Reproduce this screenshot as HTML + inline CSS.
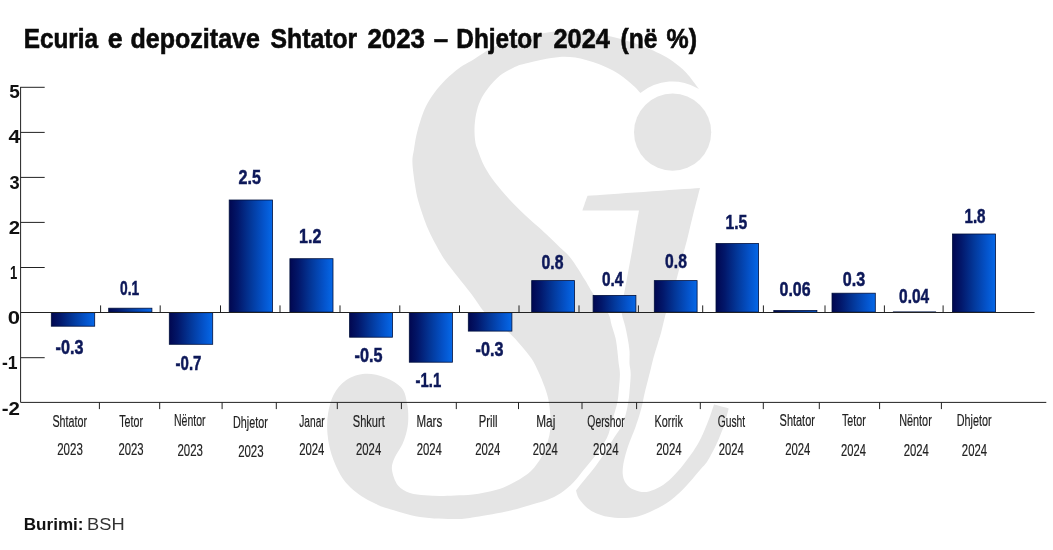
<!DOCTYPE html>
<html lang="sq"><head><meta charset="utf-8"><title>Ecuria e depozitave</title>
<style>
html,body{margin:0;padding:0;background:#fff}
body{width:1053px;height:550px;overflow:hidden}
svg{display:block;font-family:"Liberation Sans",sans-serif}
</style></head><body>
<svg width="1053" height="550" viewBox="0 0 1053 550">
<defs><linearGradient id="g" x1="0" y1="0" x2="1" y2="0">
<stop offset="0" stop-color="#010750"/><stop offset=".2" stop-color="#02176a"/><stop offset=".5" stop-color="#03389a"/><stop offset=".8" stop-color="#0454cc"/><stop offset="1" stop-color="#0568e8"/>
</linearGradient></defs>
<rect width="1053" height="550" fill="#fff"/>
<g fill="#e5e5e5" role="img" aria-label="Si"><path d="M699.0 89.0C696.8 86.2 690.3 77.1 686.0 72.5C681.7 67.9 677.3 64.6 673.0 61.5C668.7 58.4 664.5 56.1 660.0 53.8C655.5 51.5 651.0 49.5 646.0 47.5C641.0 45.5 635.8 43.6 630.0 41.8C624.2 40.0 617.8 38.0 611.0 36.5C604.2 35.0 598.3 33.3 589.0 32.5C579.7 31.7 566.5 30.5 555.0 31.5C543.5 32.5 529.8 36.1 519.8 38.6C509.8 41.1 502.8 43.0 495.0 46.6C487.2 50.2 478.8 56.4 472.8 60.0C466.8 63.6 463.5 64.9 459.0 68.2C454.5 71.5 449.9 75.5 445.8 79.6C441.7 83.7 437.7 88.3 434.4 92.7C431.1 97.1 428.5 101.2 426.2 105.8C423.9 110.4 422.1 115.7 420.5 120.6C418.9 125.5 417.5 130.4 416.4 135.3C415.3 140.2 414.6 145.6 413.9 150.0C413.2 154.4 412.3 156.6 412.4 162.0C412.5 167.4 413.8 176.4 414.7 182.7C415.6 189.0 416.6 194.6 418.0 200.0C419.4 205.4 421.1 210.4 422.9 215.4C424.6 220.4 426.3 225.1 428.5 230.0C430.7 234.9 433.4 240.1 435.9 244.8C438.4 249.5 440.7 253.7 443.5 258.0C446.3 262.3 449.9 266.7 452.8 270.5C455.7 274.3 458.1 277.3 461.0 281.0C463.9 284.7 467.5 289.0 470.2 292.5C472.9 296.0 474.6 298.7 477.0 302.0C479.4 305.3 481.1 308.6 484.5 312.2C487.9 315.8 493.2 319.9 497.5 323.5C501.8 327.1 506.1 329.8 510.0 333.5C513.9 337.2 517.4 341.2 521.0 345.5C524.6 349.8 528.9 354.6 531.8 359.0C534.7 363.4 536.4 367.4 538.5 372.0C540.6 376.6 542.9 382.1 544.6 386.8C546.3 391.5 547.6 395.5 548.5 400.0C549.4 404.5 549.9 409.3 550.2 414.0C550.5 418.7 551.0 423.2 550.5 428.0C550.0 432.8 549.0 437.7 547.5 442.5C546.0 447.3 544.4 451.9 541.6 456.7C538.9 461.4 535.3 466.9 531.0 471.0C526.7 475.1 521.3 478.4 515.6 481.5C509.9 484.6 503.8 487.6 496.7 489.8C489.6 492.0 479.9 493.6 473.0 494.5C466.1 495.4 460.5 495.2 455.0 495.5C449.5 495.8 445.0 496.0 440.0 496.0C435.0 496.0 430.0 495.8 425.0 495.3C420.0 494.8 414.5 494.6 410.0 493.0C405.5 491.4 401.0 489.3 398.0 485.5C395.0 481.7 392.6 474.6 392.0 470.0C391.4 465.4 392.8 462.3 394.5 458.0C396.2 453.7 400.4 448.7 402.5 444.0C404.6 439.3 406.0 434.5 407.0 430.0C408.0 425.5 408.3 421.5 408.3 417.0C408.3 412.5 408.1 407.8 407.0 403.0C405.9 398.2 405.4 392.2 401.7 388.0C398.0 383.8 391.1 379.9 385.0 377.5C378.9 375.1 371.5 373.4 365.0 373.8C358.5 374.2 351.2 376.7 346.0 380.2C340.8 383.7 336.5 389.4 333.5 395.0C330.5 400.6 329.0 407.5 328.0 414.0C327.0 420.5 326.9 427.2 327.5 434.0C328.1 440.8 329.5 448.2 331.7 455.0C333.9 461.8 337.4 469.6 340.5 475.0C343.6 480.4 346.9 483.9 350.5 487.5C354.1 491.1 358.1 493.9 362.0 496.5C365.9 499.1 369.8 501.0 374.0 503.0C378.2 505.0 379.3 506.0 387.0 508.3C394.7 510.6 408.5 515.2 420.0 517.0C431.5 518.8 446.8 519.0 456.0 519.0C465.2 519.0 466.2 518.4 475.4 517.0C484.5 515.6 501.5 512.6 510.9 510.5C520.3 508.4 526.0 506.2 532.0 504.5C538.0 502.8 542.2 501.9 547.0 500.0C551.8 498.1 556.5 496.0 561.0 493.0C565.5 490.0 570.0 485.9 573.8 482.0C577.6 478.1 580.4 473.9 584.0 469.5C587.6 465.1 591.6 460.8 595.4 455.5C599.2 450.2 604.4 442.8 607.0 437.7C609.6 432.6 609.7 429.3 611.0 425.0C612.3 420.7 613.7 415.8 614.8 412.0C615.9 408.2 616.8 405.5 617.4 402.3C618.0 399.1 618.2 397.7 618.6 393.0C619.0 388.3 619.9 378.9 619.9 374.0C619.9 369.1 619.1 367.4 618.7 363.6C618.3 359.8 617.9 355.3 617.4 351.0C616.9 346.7 616.5 342.3 615.5 338.0C614.5 333.7 612.9 329.4 611.7 325.4C610.5 321.4 610.5 317.7 608.5 314.0C606.5 310.3 602.6 306.5 600.0 303.0C597.4 299.5 595.2 296.8 592.7 293.0C590.2 289.2 588.6 285.8 585.0 280.0C581.4 274.2 575.2 263.9 571.0 258.5C566.8 253.1 563.7 251.1 560.0 247.5C556.3 243.9 552.6 240.1 549.0 236.7C545.4 233.3 542.4 230.5 538.5 227.0C534.6 223.5 530.4 220.2 525.5 215.5C520.6 210.8 514.0 204.5 509.0 199.0C503.9 193.5 499.3 188.1 495.2 182.7C491.1 177.3 487.4 171.8 484.5 166.4C481.6 161.0 479.2 154.1 477.7 150.0C476.2 145.9 475.8 145.4 475.3 141.8C474.8 138.2 474.4 133.3 474.5 128.7C474.6 124.1 475.2 118.6 476.1 114.0C477.1 109.4 478.1 105.3 480.2 100.9C482.2 96.5 485.1 92.0 488.4 87.8C491.7 83.6 496.1 78.7 500.0 75.5C503.9 72.3 507.8 70.5 512.0 68.5C516.2 66.5 517.5 65.5 525.5 63.6C533.5 61.7 549.6 57.6 559.7 57.0C569.8 56.4 577.1 57.8 586.0 60.0C594.9 62.2 605.4 66.5 613.0 70.5C620.6 74.5 626.9 80.2 631.5 84.0C636.1 87.8 638.9 91.5 640.4 93.0A50.5 50.5 0 0 1 699 89Z"/><path d="M587.5 195.8C606.2 194.5 681.2 189.3 700.0 188.0C698.7 193.0 694.5 209.3 692.3 218.0C690.1 226.7 688.9 232.7 687.0 240.0C685.1 247.3 683.1 254.2 681.0 262.0C678.9 269.8 676.7 279.5 674.5 287.0C672.3 294.5 669.6 302.1 668.0 307.0C666.4 311.9 666.1 312.4 665.0 316.5C663.9 320.6 662.5 327.1 661.3 331.8C660.0 336.5 658.8 340.3 657.5 344.5C656.2 348.7 654.9 352.8 653.7 357.0C652.5 361.2 652.0 364.0 650.5 370.0C649.0 376.0 646.0 387.6 644.7 393.0C643.4 398.4 643.5 399.1 642.8 402.3C642.1 405.5 641.5 407.9 640.3 412.0C639.1 416.1 637.7 420.7 635.5 427.0C633.3 433.3 629.1 442.8 627.0 449.6C624.9 456.4 623.4 462.7 622.9 467.6C622.4 472.5 622.6 475.7 623.7 479.0C624.8 482.3 626.9 485.2 629.5 487.3C632.1 489.4 636.0 490.7 639.3 491.4C642.5 492.1 645.5 492.2 649.0 491.4C652.5 490.6 656.8 488.8 660.6 486.5C664.4 484.2 668.2 481.2 672.0 477.5C675.8 473.8 680.0 468.8 683.5 464.4C687.0 460.0 690.4 455.7 693.3 451.3C696.2 446.9 698.4 443.2 701.0 438.0C703.6 432.8 706.5 425.4 708.7 419.8C710.9 414.2 713.1 407.1 714.0 404.5C716.5 405.1 726.2 407.8 728.7 408.4C727.9 411.2 726.1 419.5 724.0 425.5C721.9 431.5 719.0 438.7 716.3 444.6C713.5 450.5 710.2 456.8 707.5 461.0C704.8 465.2 703.8 465.6 700.0 470.0C696.2 474.4 689.9 482.2 685.0 487.3C680.1 492.4 675.6 496.6 670.4 500.4C665.2 504.2 659.5 507.3 654.0 510.0C648.5 512.7 642.9 515.2 637.6 516.5C632.3 517.8 626.9 518.0 622.0 518.0C617.1 518.0 612.3 517.6 608.0 516.8C603.7 516.0 599.5 514.7 596.0 513.2C592.5 511.7 590.1 510.4 587.3 508.0C584.5 505.6 580.9 501.6 579.0 498.7C577.1 495.8 576.5 491.9 576.0 490.5C577.1 489.1 579.9 485.5 582.7 482.0C585.5 478.5 589.6 473.9 593.0 469.5C596.4 465.1 599.5 460.8 603.0 455.5C606.5 450.2 610.8 442.8 614.0 437.7C617.2 432.6 620.4 429.3 622.4 425.0C624.4 420.7 625.3 415.8 626.3 412.0C627.3 408.2 627.7 405.5 628.2 402.3C628.7 399.1 629.0 397.7 629.4 393.0C629.8 388.3 630.7 378.9 630.7 374.0C630.7 369.1 629.7 367.4 629.5 363.6C629.3 359.8 629.8 355.3 629.5 351.0C629.2 346.7 628.4 342.3 627.6 338.0C626.9 333.7 626.0 329.4 625.0 325.4C624.0 321.4 622.4 317.4 621.9 314.0C621.4 310.6 621.5 309.2 622.0 305.0C622.5 300.8 623.9 294.8 625.0 289.0C626.1 283.2 627.3 276.3 628.5 270.0C629.7 263.7 630.8 257.7 632.0 251.0C633.2 244.3 634.3 236.8 635.5 230.0C636.7 223.2 638.4 213.8 639.0 210.5C629.6 210.5 591.8 210.5 582.4 210.5C583.2 208.1 586.6 198.2 587.5 195.8Z"/><circle cx="672.6" cy="132.2" r="38.6"/></g>
<g fill="url(#g)" stroke="#00103c" stroke-width=".8"><rect x="51.3" y="312.7" width="43.4" height="13.5"/>
<rect x="108.7" y="308.2" width="43.2" height="3.9"/>
<rect x="169.3" y="312.7" width="43.4" height="31.6"/>
<rect x="229.2" y="200.0" width="43.3" height="112.1"/>
<rect x="289.9" y="258.7" width="43.1" height="53.4"/>
<rect x="349.6" y="312.7" width="42.9" height="24.5"/>
<rect x="409.3" y="312.7" width="43.1" height="49.5"/>
<rect x="468.3" y="312.7" width="43.6" height="18.4"/>
<rect x="531.7" y="280.6" width="42.8" height="31.5"/>
<rect x="593.1" y="295.4" width="42.8" height="16.7"/>
<rect x="654.3" y="280.6" width="42.8" height="31.5"/>
<rect x="716.0" y="243.5" width="42.6" height="68.6"/>
<rect x="773.8" y="310.5" width="43.1" height="1.6"/>
<rect x="832.0" y="293.2" width="43.3" height="18.9"/>
<rect x="893.3" y="311.9" width="42.4" height="0.3"/>
<rect x="952.5" y="234.0" width="43.0" height="78.1"/></g>
<g fill="none" stroke="#222" stroke-width="1"><path d="M20.6 86.9V402.4H1046.3"/>
<path d="M20.6 312.5H1034.6"/>
<path d="M20.6 87.3H44.7"/>
<path d="M20.6 132.4H44.7"/>
<path d="M20.6 177.4H44.7"/>
<path d="M20.6 222.4H44.7"/>
<path d="M20.6 267.5H44.7"/>
<path d="M20.6 357.7H44.7"/>
<path d="M100.6 312.4v-7"/>
<path d="M160.2 312.4v-7"/>
<path d="M220.5 312.4v-7"/>
<path d="M280.0 312.4v-7"/>
<path d="M340.0 312.4v-7"/>
<path d="M399.8 312.4v-7"/>
<path d="M459.5 312.4v-7"/>
<path d="M519.0 312.4v-7"/>
<path d="M579.0 312.4v-7"/>
<path d="M638.4 312.4v-7"/>
<path d="M702.7 312.4v-7"/>
<path d="M763.4 312.4v-7"/>
<path d="M825.0 312.4v-7"/>
<path d="M884.4 312.4v-7"/>
<path d="M943.1 312.4v-7"/>
<path d="M99.4 402.3v6.8"/>
<path d="M159.7 402.3v6.8"/>
<path d="M222.1 402.3v6.8"/>
<path d="M276.3 402.3v6.8"/>
<path d="M337.3 402.3v6.8"/>
<path d="M401.4 402.3v6.8"/>
<path d="M456.3 402.3v6.8"/>
<path d="M518.5 402.3v6.8"/>
<path d="M582.0 402.3v6.8"/>
<path d="M636.6 402.3v6.8"/>
<path d="M700.3 402.3v6.8"/>
<path d="M763.3 402.3v6.8"/>
<path d="M819.3 402.3v6.8"/>
<path d="M879.6 402.3v6.8"/>
<path d="M941.4 402.3v6.8"/></g>
<text transform="translate(9.18 98.49) scale(0.9995 1)" font-size="19.00" font-weight="700" fill="#111">5</text>
<text transform="translate(8.38 143.48) scale(1.1117 1)" font-size="19.00" font-weight="700" fill="#111">4</text>
<text transform="translate(9.39 188.76) scale(0.9627 1)" font-size="19.00" font-weight="700" fill="#111">3</text>
<text transform="translate(8.69 234.03) scale(1.0746 1)" font-size="19.00" font-weight="700" fill="#111">2</text>
<text transform="translate(10.08 278.98) scale(0.6904 1)" font-size="19.00" font-weight="700" fill="#111">1</text>
<text transform="translate(7.82 324.03) scale(1.1634 1)" font-size="19.00" font-weight="700" fill="#111">0</text>
<text transform="translate(1.90 368.68) scale(0.9243 1)" font-size="19.00" font-weight="700" fill="#111">-1</text>
<text transform="translate(1.78 414.73) scale(1.0820 1)" font-size="19.00" font-weight="700" fill="#111">-2</text>
<text transform="translate(55.55 354.08) scale(0.8033 1)" font-size="20.10" font-weight="700" fill="#0d1859" stroke="#0d1859" stroke-width="0.50">-0.3</text>
<text transform="translate(120.05 294.91) scale(0.6847 1)" font-size="20.10" font-weight="700" fill="#0d1859" stroke="#0d1859" stroke-width="0.50">0.1</text>
<text transform="translate(175.60 370.11) scale(0.7463 1)" font-size="20.10" font-weight="700" fill="#0d1859" stroke="#0d1859" stroke-width="0.50">-0.7</text>
<text transform="translate(238.54 184.46) scale(0.8020 1)" font-size="20.10" font-weight="700" fill="#0d1859" stroke="#0d1859" stroke-width="0.50">2.5</text>
<text transform="translate(299.10 243.01) scale(0.7999 1)" font-size="20.10" font-weight="700" fill="#0d1859" stroke="#0d1859" stroke-width="0.50">1.2</text>
<text transform="translate(354.55 362.41) scale(0.8056 1)" font-size="20.10" font-weight="700" fill="#0d1859" stroke="#0d1859" stroke-width="0.50">-0.5</text>
<text transform="translate(415.61 386.51) scale(0.7395 1)" font-size="20.10" font-weight="700" fill="#0d1859" stroke="#0d1859" stroke-width="0.50">-1.1</text>
<text transform="translate(475.55 356.33) scale(0.8033 1)" font-size="20.10" font-weight="700" fill="#0d1859" stroke="#0d1859" stroke-width="0.50">-0.3</text>
<text transform="translate(541.57 269.41) scale(0.7840 1)" font-size="20.10" font-weight="700" fill="#0d1859" stroke="#0d1859" stroke-width="0.50">0.8</text>
<text transform="translate(601.88 285.56) scale(0.7657 1)" font-size="20.10" font-weight="700" fill="#0d1859" stroke="#0d1859" stroke-width="0.50">0.4</text>
<text transform="translate(665.07 267.56) scale(0.7802 1)" font-size="20.10" font-weight="700" fill="#0d1859" stroke="#0d1859" stroke-width="0.50">0.8</text>
<text transform="translate(725.52 228.56) scale(0.7807 1)" font-size="20.10" font-weight="700" fill="#0d1859" stroke="#0d1859" stroke-width="0.50">1.5</text>
<text transform="translate(779.56 296.01) scale(0.7928 1)" font-size="20.10" font-weight="700" fill="#0d1859" stroke="#0d1859" stroke-width="0.50">0.06</text>
<text transform="translate(842.86 285.63) scale(0.8021 1)" font-size="20.10" font-weight="700" fill="#0d1859" stroke="#0d1859" stroke-width="0.50">0.3</text>
<text transform="translate(899.08 302.66) scale(0.7698 1)" font-size="20.10" font-weight="700" fill="#0d1859" stroke="#0d1859" stroke-width="0.50">0.04</text>
<text transform="translate(964.45 222.86) scale(0.7554 1)" font-size="20.10" font-weight="700" fill="#0d1859" stroke="#0d1859" stroke-width="0.50">1.8</text>
<text transform="translate(52.42 426.70) scale(0.6324 1)" font-size="17.00" font-weight="400" fill="#222" stroke="#222" stroke-width="0.20">Shtator</text>
<text transform="translate(57.22 455.40) scale(0.6766 1)" font-size="17.00" font-weight="400" fill="#222" stroke="#222" stroke-width="0.20">2023</text>
<text transform="translate(119.26 426.70) scale(0.6273 1)" font-size="17.00" font-weight="400" fill="#222" stroke="#222" stroke-width="0.20">Tetor</text>
<text transform="translate(118.43 455.40) scale(0.6656 1)" font-size="17.00" font-weight="400" fill="#222" stroke="#222" stroke-width="0.20">2023</text>
<text transform="translate(173.93 426.10) scale(0.6202 1)" font-size="17.00" font-weight="400" fill="#222" stroke="#222" stroke-width="0.20">Nëntor</text>
<text transform="translate(177.43 456.20) scale(0.6738 1)" font-size="17.00" font-weight="400" fill="#222" stroke="#222" stroke-width="0.20">2023</text>
<text transform="translate(233.01 427.80) scale(0.6344 1)" font-size="17.00" font-weight="400" fill="#222" stroke="#222" stroke-width="0.20">Dhjetor</text>
<text transform="translate(238.13 456.70) scale(0.6738 1)" font-size="17.00" font-weight="400" fill="#222" stroke="#222" stroke-width="0.20">2023</text>
<text transform="translate(299.25 426.80) scale(0.6001 1)" font-size="17.00" font-weight="400" fill="#222" stroke="#222" stroke-width="0.20">Janar</text>
<text transform="translate(299.13 455.40) scale(0.6664 1)" font-size="17.00" font-weight="400" fill="#222" stroke="#222" stroke-width="0.20">2024</text>
<text transform="translate(352.80 426.80) scale(0.6509 1)" font-size="17.00" font-weight="400" fill="#222" stroke="#222" stroke-width="0.20">Shkurt</text>
<text transform="translate(356.03 455.40) scale(0.6664 1)" font-size="17.00" font-weight="400" fill="#222" stroke="#222" stroke-width="0.20">2024</text>
<text transform="translate(416.54 426.80) scale(0.6818 1)" font-size="17.00" font-weight="400" fill="#222" stroke="#222" stroke-width="0.20">Mars</text>
<text transform="translate(416.73 455.40) scale(0.6664 1)" font-size="17.00" font-weight="400" fill="#222" stroke="#222" stroke-width="0.20">2024</text>
<text transform="translate(478.77 426.80) scale(0.6629 1)" font-size="17.00" font-weight="400" fill="#222" stroke="#222" stroke-width="0.20">Prill</text>
<text transform="translate(475.13 455.40) scale(0.6664 1)" font-size="17.00" font-weight="400" fill="#222" stroke="#222" stroke-width="0.20">2024</text>
<text transform="translate(536.22 426.80) scale(0.6958 1)" font-size="17.00" font-weight="400" fill="#222" stroke="#222" stroke-width="0.20">Maj</text>
<text transform="translate(532.84 455.40) scale(0.6609 1)" font-size="17.00" font-weight="400" fill="#222" stroke="#222" stroke-width="0.20">2024</text>
<text transform="translate(587.31 426.80) scale(0.6114 1)" font-size="17.00" font-weight="400" fill="#222" stroke="#222" stroke-width="0.20">Qershor</text>
<text transform="translate(593.03 455.40) scale(0.6746 1)" font-size="17.00" font-weight="400" fill="#222" stroke="#222" stroke-width="0.20">2024</text>
<text transform="translate(654.61 426.80) scale(0.6371 1)" font-size="17.00" font-weight="400" fill="#222" stroke="#222" stroke-width="0.20">Korrik</text>
<text transform="translate(656.23 455.40) scale(0.6746 1)" font-size="17.00" font-weight="400" fill="#222" stroke="#222" stroke-width="0.20">2024</text>
<text transform="translate(717.69 426.80) scale(0.6040 1)" font-size="17.00" font-weight="400" fill="#222" stroke="#222" stroke-width="0.20">Gusht</text>
<text transform="translate(718.84 455.40) scale(0.6609 1)" font-size="17.00" font-weight="400" fill="#222" stroke="#222" stroke-width="0.20">2024</text>
<text transform="translate(779.61 425.60) scale(0.6436 1)" font-size="17.00" font-weight="400" fill="#222" stroke="#222" stroke-width="0.20">Shtator</text>
<text transform="translate(785.13 454.80) scale(0.6664 1)" font-size="17.00" font-weight="400" fill="#222" stroke="#222" stroke-width="0.20">2024</text>
<text transform="translate(841.96 426.40) scale(0.6300 1)" font-size="17.00" font-weight="400" fill="#222" stroke="#222" stroke-width="0.20">Tetor</text>
<text transform="translate(841.04 455.70) scale(0.6582 1)" font-size="17.00" font-weight="400" fill="#222" stroke="#222" stroke-width="0.20">2024</text>
<text transform="translate(899.20 425.60) scale(0.6384 1)" font-size="17.00" font-weight="400" fill="#222" stroke="#222" stroke-width="0.20">Nëntor</text>
<text transform="translate(903.63 455.70) scale(0.6664 1)" font-size="17.00" font-weight="400" fill="#222" stroke="#222" stroke-width="0.20">2024</text>
<text transform="translate(956.81 426.40) scale(0.6344 1)" font-size="17.00" font-weight="400" fill="#222" stroke="#222" stroke-width="0.20">Dhjetor</text>
<text transform="translate(961.83 455.70) scale(0.6664 1)" font-size="17.00" font-weight="400" fill="#222" stroke="#222" stroke-width="0.20">2024</text>
<text transform="translate(23.65 47.80) scale(0.8768 1)" font-size="27.80" font-weight="700" fill="#0a0a0a" stroke="#0a0a0a" stroke-width="0.60">Ecuria</text>
<text transform="translate(107.63 47.80) scale(0.9617 1)" font-size="27.80" font-weight="700" fill="#0a0a0a" stroke="#0a0a0a" stroke-width="0.60">e</text>
<text transform="translate(130.50 47.80) scale(0.9016 1)" font-size="27.80" font-weight="700" fill="#0a0a0a" stroke="#0a0a0a" stroke-width="0.60">depozitave</text>
<text transform="translate(270.56 47.80) scale(0.8902 1)" font-size="27.80" font-weight="700" fill="#0a0a0a" stroke="#0a0a0a" stroke-width="0.60">Shtator</text>
<text transform="translate(367.39 47.80) scale(0.9325 1)" font-size="27.80" font-weight="700" fill="#0a0a0a" stroke="#0a0a0a" stroke-width="0.60">2023</text>
<text transform="translate(433.72 47.80) scale(0.9302 1)" font-size="27.80" font-weight="700" fill="#0a0a0a" stroke="#0a0a0a" stroke-width="0.60">–</text>
<text transform="translate(456.25 47.80) scale(0.8789 1)" font-size="27.80" font-weight="700" fill="#0a0a0a" stroke="#0a0a0a" stroke-width="0.60">Dhjetor</text>
<text transform="translate(553.41 47.80) scale(0.9131 1)" font-size="27.80" font-weight="700" fill="#0a0a0a" stroke="#0a0a0a" stroke-width="0.60">2024</text>
<text transform="translate(620.47 47.80) scale(0.8856 1)" font-size="27.80" font-weight="700" fill="#0a0a0a" stroke="#0a0a0a" stroke-width="0.60">(në</text>
<text transform="translate(666.58 47.80) scale(0.8965 1)" font-size="27.80" font-weight="700" fill="#0a0a0a" stroke="#0a0a0a" stroke-width="0.60">%)</text>
<text transform="translate(23.75 529.60) scale(1.0478 1)" font-size="16.30" font-weight="700" fill="#111">Burimi:</text>
<text transform="translate(87.09 529.60) scale(1.1216 1)" font-size="16.30" font-weight="400" fill="#333">BSH</text>
</svg>
</body></html>
